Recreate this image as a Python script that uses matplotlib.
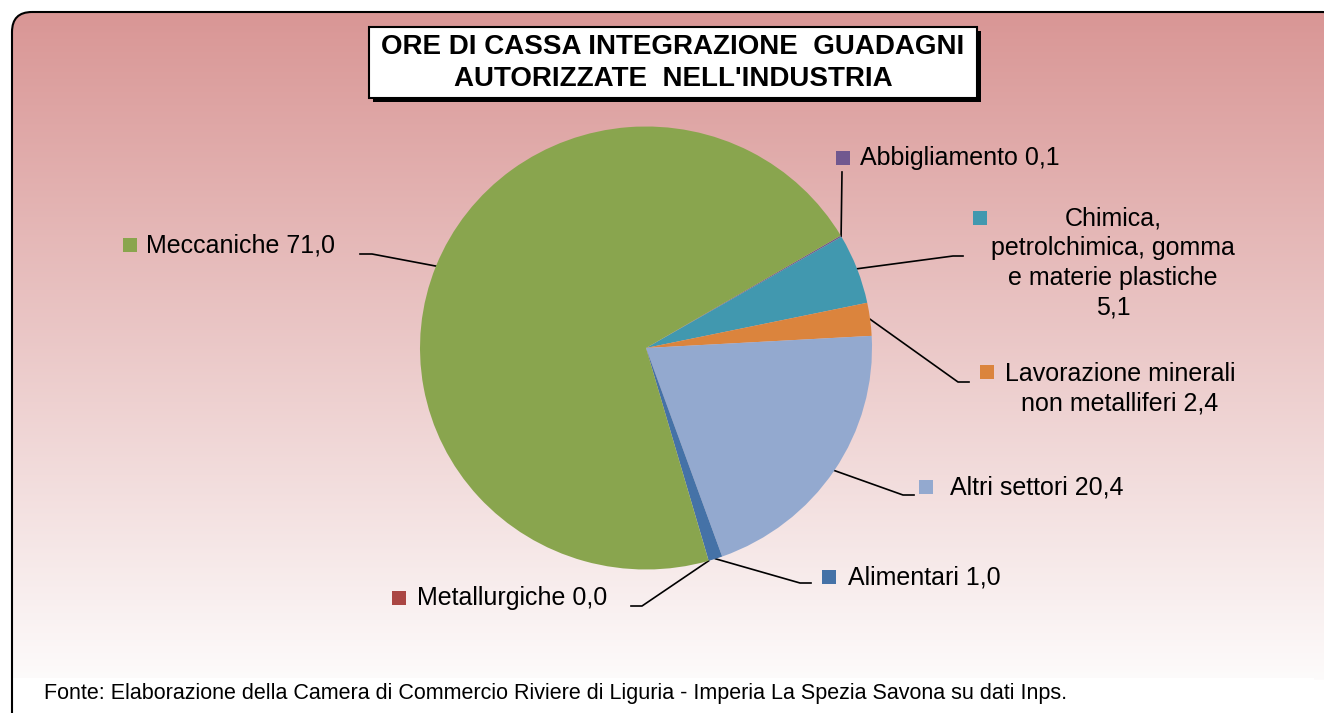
import numpy as np
import matplotlib.pyplot as plt
from matplotlib.patches import FancyBboxPatch, Rectangle

plt.rcParams['font.family'] = ['Liberation Sans', 'DejaVu Sans']

# data (clockwise from the top-right)
sectors = ["Abbigliamento", "Chimica, petrolchimica, gomma e materie plastiche",
           "Lavorazione minerali non metalliferi", "Altri settori", "Alimentari",
           "Metallurgiche", "Meccaniche"]
values = [0.1, 5.1, 2.4, 20.4, 1.0, 0.0, 71.0]
colors = ["#71588F", "#4198AF", "#DB843D", "#93A9CF", "#4572A7", "#AA4643", "#89A54E"]
labels = ["Abbigliamento 0,1",
          "Chimica,\npetrolchimica, gomma\ne materie plastiche\n5,1",
          "Lavorazione minerali\nnon metalliferi 2,4",
          "Altri settori 20,4",
          "Alimentari 1,0",
          "Metallurgiche 0,0",
          "Meccaniche 71,0"]

W, H = 1324, 713
fig = plt.figure(figsize=(W / 100, H / 100), dpi=100)

# background axes in pixel coords
bg = fig.add_axes([0, 0, 1, 1])
bg.set_xlim(0, W)
bg.set_ylim(H, 0)
bg.axis('off')

frame = FancyBboxPatch((12, 12), 1330, 726, boxstyle="round,pad=0,rounding_size=20",
                       fc='none', ec='black', lw=1.5, zorder=3)
bg.add_patch(frame)
top = np.array([217, 150, 149]) / 255
bot = np.array([253, 251, 251]) / 255
t = np.linspace(0, 1, 300)[:, None, None]
grad = top * (1 - t) + bot * t
im = bg.imshow(grad, extent=(12, 1342, 680, 12), aspect='auto', zorder=1)
im.set_clip_path(frame)
white = Rectangle((12, 678), 1302, 60, fc='white', ec='none', zorder=1)
bg.add_patch(white)
white.set_clip_path(frame)
bg.set_xlim(0, W)
bg.set_ylim(H, 0)

# title box
bg.add_patch(Rectangle((373, 31), 608, 71, fc='black', ec='none', zorder=4))
bg.add_patch(Rectangle((369, 27), 608, 71, fc='white', ec='black', lw=1.5, zorder=5))
bg.text(673, 63, "ORE DI CASSA INTEGRAZIONE  GUADAGNI\nAUTORIZZATE  NELL'INDUSTRIA",
        ha='center', va='center', fontsize=20, fontweight='bold', linespacing=1.3, zorder=6)

# pie
cx, cy, rx, ry = 646, 348, 226, 221.5
pax = fig.add_axes([(cx - rx) / W, (H - cy - ry) / H, 2 * rx / W, 2 * ry / H])
wedges, _ = pax.pie(values, colors=colors, startangle=30.5, counterclock=False,
                    wedgeprops=dict(linewidth=0))
pax.set_aspect('auto')
pax.set_xlim(-1, 1)
pax.set_ylim(-1, 1)
pax.axis('off')

# label layout (pixels)
elbows = [(842, 172), (953, 256), (958, 382), (903, 495), (800, 583), (642, 606), (372, 254)]
ends = [(842, 172), (963, 256), (969, 382), (914, 495), (811, 583), (631, 606), (360, 254)]
keys = [(843, 158), (980, 218), (987, 372), (926, 487), (829, 577), (399, 598), (130, 245)]
text_pos = [(860, 158, 'left'), (1113, 263, 'center'), (1120, 389, 'center'),
            (950, 488, 'left'), (848, 577, 'left'), (417, 598, 'left'), (146, 245, 'left')]

to_bg = bg.transData.inverted()
for w, lab, col, el, en, k, tp in zip(wedges, labels, colors, elbows, ends, keys, text_pos):
    th = np.deg2rad((w.theta1 + w.theta2) / 2)
    ex, ey = to_bg.transform(pax.transData.transform((np.cos(th), np.sin(th))))
    bg.plot([ex, el[0], en[0]], [ey, el[1], en[1]], color='black', lw=1.2, zorder=4)
    bg.scatter([k[0]], [k[1]], marker='s', s=110, color=col, zorder=5, linewidths=0)
    bg.text(tp[0], tp[1], lab, ha=tp[2], va='center', multialignment='center',
            fontsize=18, linespacing=1.3, zorder=5)

bg.text(44, 693, "Fonte: Elaborazione della Camera di Commercio Riviere di Liguria - "
        "Imperia La Spezia Savona su dati Inps.", ha='left', va='center', fontsize=15.5, zorder=5)

fig.savefig("out.png", dpi=100)
